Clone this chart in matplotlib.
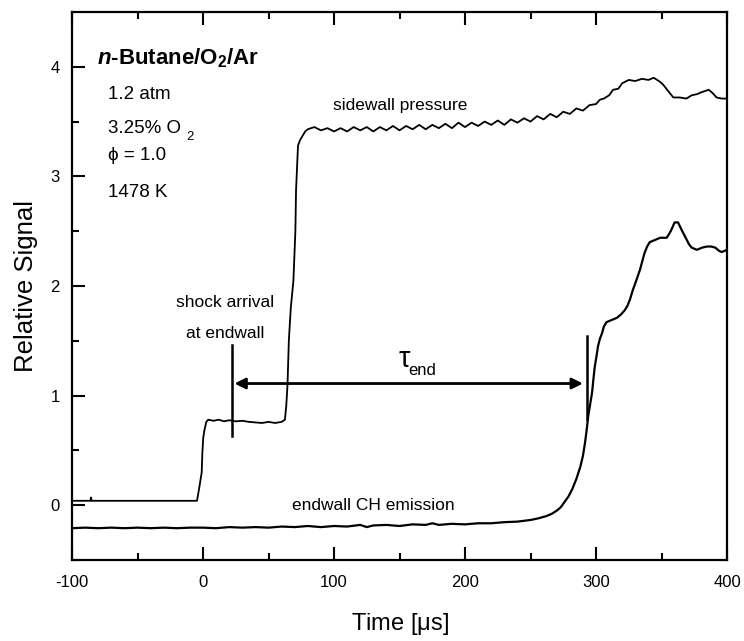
#!/usr/bin/env python3
"""
Sidewall pressure and endwall CH emission trace (n-butane ignition)
"""

import matplotlib
matplotlib.use('Agg')
import matplotlib.pyplot as plt

plt.rcParams['font.family'] = ['Liberation Sans', 'DejaVu Sans']
plt.rcParams['axes.unicode_minus'] = False
plt.rcParams['mathtext.fontset'] = 'custom'
plt.rcParams['mathtext.rm'] = 'Liberation Sans'
plt.rcParams['mathtext.it'] = 'Liberation Sans:italic'
plt.rcParams['mathtext.bf'] = 'Liberation Sans:bold'
plt.rcParams['mathtext.bfit'] = 'Liberation Sans:italic:bold'

# sidewall pressure trace (time in us, relative signal)
pressure_t = [-100, -86, -85.5, -85, -60, -30, -10, -4.6, -3, -1, -0.5, 0.2, 1, 2.5,
              4, 8, 12, 16, 20, 25, 30, 35, 40, 45, 50, 55, 60, 62.5, 63.5, 64.5,
              65.5, 67, 69, 70.5, 71, 72.5, 74, 76, 78,
              80, 85, 90, 95, 100, 105, 110, 115, 120, 125, 130, 135, 140, 145,
              150, 155, 160, 165, 170, 175, 180, 185, 190, 195, 200, 205, 210,
              215, 220, 225, 230, 235, 240, 245, 250, 255, 260, 265, 270, 275,
              280, 285, 290, 295, 300, 303, 306, 310, 313, 317, 320, 325, 330,
              335, 340, 344, 348, 351, 355, 359, 364, 369, 373, 377, 381, 386,
              389, 392, 396, 400]
pressure_y = [0.04, 0.04, 0.07, 0.04, 0.04, 0.04, 0.04, 0.04, 0.15, 0.30, 0.48, 0.62, 0.68, 0.76,
              0.78, 0.77, 0.78, 0.765, 0.775, 0.765, 0.77, 0.76, 0.755, 0.75, 0.76, 0.75, 0.76, 0.78, 0.90, 1.10,
              1.50, 1.80, 2.05, 2.50, 2.87, 3.28, 3.33, 3.37, 3.41,
              3.43, 3.45, 3.42, 3.44, 3.41, 3.44, 3.41, 3.45, 3.42, 3.45, 3.41, 3.45, 3.42, 3.46,
              3.42, 3.46, 3.43, 3.47, 3.43, 3.47, 3.44, 3.48, 3.44, 3.49, 3.45, 3.49, 3.46,
              3.50, 3.47, 3.51, 3.47, 3.52, 3.49, 3.53, 3.50, 3.55, 3.52, 3.57, 3.54, 3.59,
              3.57, 3.62, 3.60, 3.65, 3.66, 3.70, 3.71, 3.74, 3.79, 3.80, 3.85, 3.88, 3.87,
              3.89, 3.88, 3.90, 3.87, 3.84, 3.78, 3.72, 3.72, 3.71, 3.74, 3.75, 3.77, 3.79,
              3.76, 3.72, 3.71, 3.71]

# endwall CH emission trace
emission_t = [-100, -90, -80, -70, -60, -50, -40, -30, -20, -10, 0, 10, 20, 30, 40,
              50, 60, 70, 80, 90, 100, 110, 120, 125, 130, 140, 150, 160, 170, 175,
              180, 190, 200, 210, 220, 230, 240, 250, 256, 262, 266, 270, 273, 276,
              279, 282, 285, 288, 290, 291.6, 293, 294, 295.5, 297, 298, 299,
              300.5, 301.5, 303, 304.6, 306, 308, 312, 316, 319, 322, 324, 326,
              328, 331, 333.6, 337, 339, 341, 345, 349, 354, 357, 360, 362.6, 365,
              368, 371, 373, 377, 381, 384.7, 388, 391, 394, 396, 400]
emission_y = [-0.21, -0.205, -0.21, -0.205, -0.21, -0.205, -0.21, -0.205, -0.21, -0.205, -0.205, -0.21, -0.2, -0.205, -0.2,
              -0.205, -0.195, -0.2, -0.19, -0.2, -0.19, -0.195, -0.18, -0.2, -0.185, -0.18, -0.19, -0.175, -0.18, -0.165,
              -0.18, -0.17, -0.175, -0.165, -0.165, -0.155, -0.15, -0.135, -0.12, -0.10, -0.08, -0.05, -0.02, 0.03,
              0.08, 0.15, 0.24, 0.35, 0.45, 0.57, 0.70, 0.81, 0.92, 1.03, 1.15, 1.26,
              1.37, 1.45, 1.52, 1.57, 1.63, 1.67, 1.69, 1.71, 1.74, 1.78, 1.82, 1.88,
              1.96, 2.06, 2.15, 2.30, 2.36, 2.40, 2.42, 2.44, 2.44, 2.50, 2.58, 2.58, 2.52,
              2.45, 2.38, 2.35, 2.33, 2.35, 2.36, 2.36, 2.35, 2.32, 2.31, 2.33]

# ignition delay markers
shock_time = 22
ignition_time = 293
arrow_level = 1.11

fig = plt.figure(figsize=(7.44, 6.41), dpi=100)
ax = fig.add_axes([0.0968, 0.1264, 0.8804, 0.8549])

ax.plot(pressure_t, pressure_y, color='black', lw=1.3)
ax.plot(emission_t, emission_y, color='black', lw=1.6)

ax.set_xlim(-100, 400)
ax.set_ylim(-0.5, 4.5)
ax.set_xticks([-100, 0, 100, 200, 300, 400])
ax.set_xticks([-50, 50, 150, 250, 350], minor=True)
ax.set_yticks([0, 1, 2, 3, 4])
ax.set_yticks([-0.5, 0.5, 1.5, 2.5, 3.5], minor=True)

ax.tick_params(which='both', direction='in', top=True, right=False, width=1.5, labelsize=12)
ax.tick_params(which='major', length=9.5)
ax.tick_params(which='minor', length=5)
ax.tick_params(axis='x', pad=11)
ax.tick_params(axis='y', pad=9)
for spine in ax.spines.values():
    spine.set_linewidth(1.6)

ax.set_xlabel(r'Time [$\mathrm{\mu}$s]', fontsize=17)
ax.set_ylabel('Relative Signal', fontsize=18.5)
ax.xaxis.set_label_coords(0.5, -0.093)
ax.yaxis.set_label_coords(-0.052, 0.5)

# condition block
ax.text(-81, 4.08, r'$\mathbfit{n}$-Butane/O$_\mathbf{2}$/Ar', fontsize=16,
        fontweight='bold', va='center', ha='left')
ax.text(-72.5, 3.75, '1.2 atm', fontsize=13.5, va='center', ha='left')
ax.text(-72.5, 3.40, '3.25% O', fontsize=13.5, va='baseline', ha='left')
ax.text(-12.5, 3.33, '2', fontsize=9.5, va='baseline', ha='left')
ax.text(-72.5, 3.19, 'ϕ = 1.0', fontsize=13.5, va='center', ha='left')
ax.text(-72.5, 2.85, '1478 K', fontsize=13.5, va='center', ha='left')

ax.text(99, 3.65, 'sidewall pressure', fontsize=12.5, va='center', ha='left')
ax.text(130, 0.0, 'endwall CH emission', fontsize=12.5, va='center', ha='center')
ax.text(17, 1.85, 'shock arrival', fontsize=12.5, va='center', ha='center')
ax.text(17, 1.57, 'at endwall', fontsize=12.5, va='center', ha='center')

# tau_end arrow and markers
ax.plot([shock_time, shock_time], [0.63, 1.46], color='black', lw=1.8)
ax.plot([ignition_time, ignition_time], [0.79, 1.54], color='black', lw=1.8)
ax.annotate('', xy=(shock_time + 2, arrow_level), xytext=(ignition_time - 3, arrow_level),
            arrowprops=dict(arrowstyle='<|-|>', lw=2, color='black',
                            mutation_scale=16, shrinkA=0, shrinkB=0))
ax.text(149, 1.26, 'τ', fontsize=21, va='baseline', ha='left')
ax.text(157, 1.19, 'end', fontsize=12, va='baseline', ha='left')

plt.savefig('out.png', dpi=100)
plt.close()
